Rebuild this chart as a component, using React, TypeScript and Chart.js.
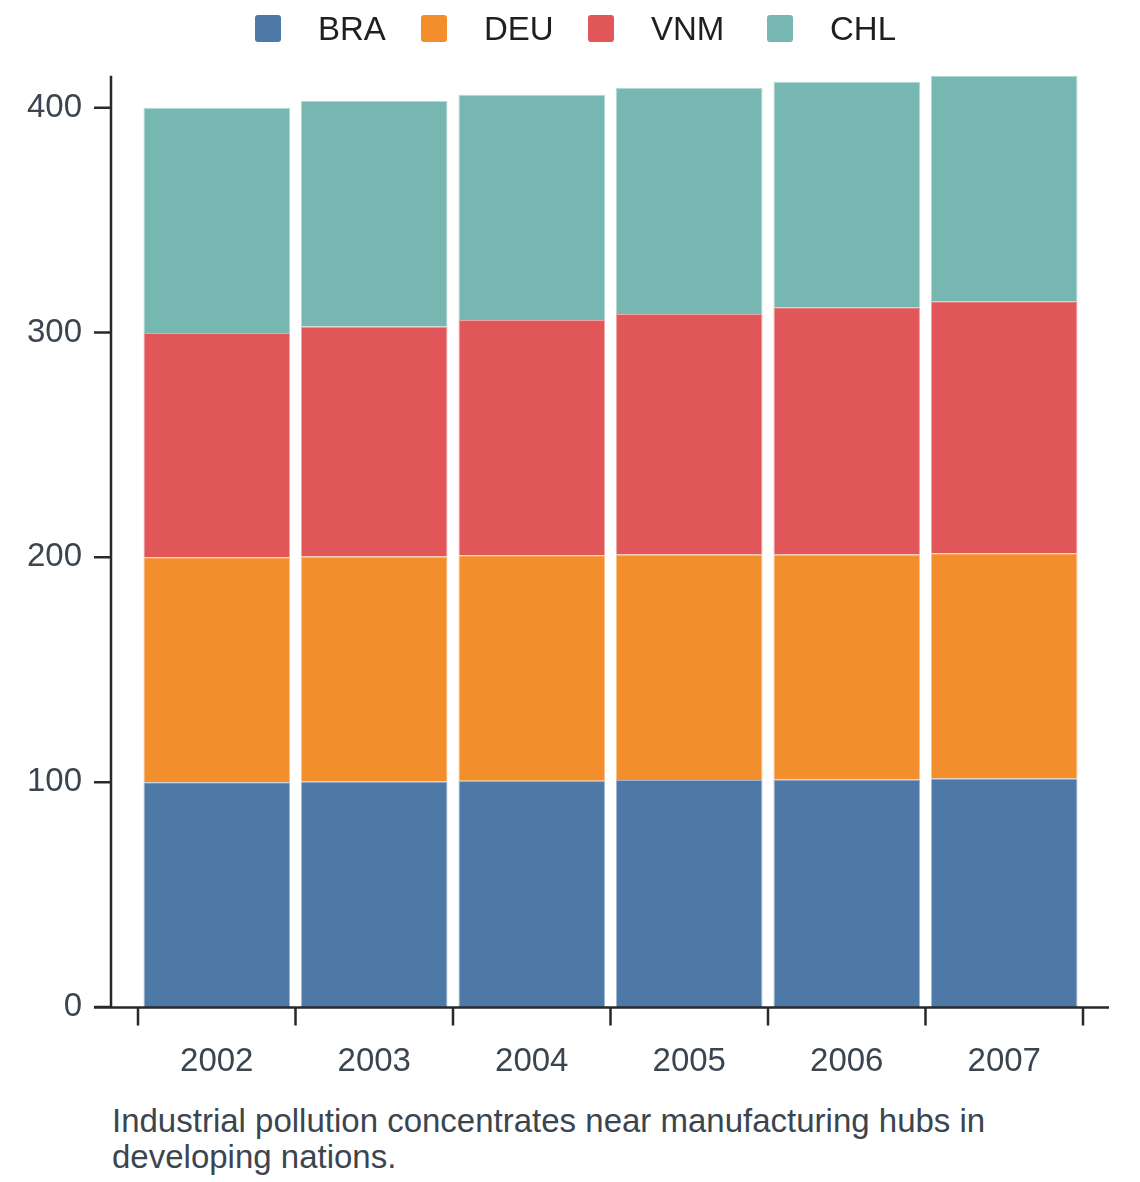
import { useEffect, useRef } from 'react'
import { Chart, registerables } from 'chart.js'

Chart.register(...registerables)

const YEARS = ['2002', '2003', '2004', '2005', '2006', '2007']
const BRA = [100, 100.3, 100.6, 101, 101.2, 101.6]
const DEU = [100, 100.1, 100.3, 100.3, 100.1, 100.2]
const VNM = [99.8, 102.3, 104.7, 107, 109.9, 112.1]
const CHL = [100.2, 100.3, 100.2, 100.6, 100.4, 100.3]
const Y_TICKS = [0, 100, 200, 300, 400]

const SERIES = [
  { label: 'BRA', data: BRA, color: '#4e79a7', rgb: '78,121,167' },
  { label: 'DEU', data: DEU, color: '#f28e2b', rgb: '242,142,43' },
  { label: 'VNM', data: VNM, color: '#e15759', rgb: '225,87,89' },
  { label: 'CHL', data: CHL, color: '#76b7b2', rgb: '118,183,178' },
]

const CAPTION = 'Industrial pollution concentrates near manufacturing hubs in developing nations.'

const FONT = '"Liberation Sans", Arial, Helvetica, sans-serif'
const TEXT = '#3b4550'
const AXIS = '#262a2e'
const SIZE = 33

// legend item x positions (box left)
const LEGEND_X = [255, 421, 588, 767]

const spines = {
  id: 'spines',
  afterDraw(chart: Chart) {
    const { ctx, chartArea: a } = chart
    const x = chart.scales.x
    const y = chart.scales.y
    const sx = a.left - 27
    const by = a.bottom + 0.5
    ctx.save()
    ctx.strokeStyle = AXIS
    ctx.lineWidth = 2.5
    ctx.beginPath()
    ctx.moveTo(sx, a.top)
    ctx.lineTo(sx, by)
    Y_TICKS.forEach((v) => {
      const py = y.getPixelForValue(v)
      ctx.moveTo(sx - 17, py)
      ctx.lineTo(sx, py)
    })
    ctx.moveTo(sx - 17, by)
    ctx.lineTo(a.right + 26, by)
    for (let i = 0; i <= YEARS.length; i++) {
      const px = x.getPixelForValue(i - 0.5)
      ctx.moveTo(px, by)
      ctx.lineTo(px, by + 18)
    }
    ctx.stroke()
    ctx.restore()
  },
}

function StackedBars() {
  const ref = useRef<HTMLCanvasElement>(null)
  const chartRef = useRef<Chart | null>(null)

  useEffect(() => {
    if (!ref.current) return
    if (chartRef.current) chartRef.current.destroy()

    const totals = YEARS.map((_, i) => SERIES.reduce((s, d) => s + d.data[i], 0))
    const yMax = Math.max(...totals)

    chartRef.current = new Chart(ref.current, {
      type: 'bar',
      data: {
        labels: YEARS,
        datasets: SERIES.map((s) => ({
          label: s.label,
          data: s.data,
          backgroundColor: s.color,
          borderColor: `rgba(${s.rgb},0.55)`,
          borderWidth: 1,
          barPercentage: 0.93,
          categoryPercentage: 1,
        })),
      },
      options: {
        animation: false,
        responsive: true,
        maintainAspectRatio: false,
        layout: { padding: { top: 75, left: 0, right: 57, bottom: 0 } },
        plugins: {
          legend: { display: false },
          tooltip: { enabled: false },
        },
        scales: {
          x: {
            stacked: true,
            grid: { display: false, drawTicks: false },
            border: { display: false },
            ticks: { color: TEXT, font: { family: FONT, size: SIZE }, padding: 35 },
            afterFit: (s: any) => { s.height = 88 },
          },
          y: {
            stacked: true,
            min: 0,
            max: yMax,
            grid: { display: false, drawTicks: false },
            border: { display: false },
            ticks: {
              stepSize: 100,
              includeBounds: false,
              color: TEXT,
              font: { family: FONT, size: SIZE },
              padding: 56,
            },
            afterFit: (s: any) => { s.width = 138 },
          },
        },
      },
      plugins: [spines],
    })

    return () => { chartRef.current?.destroy() }
  }, [])

  return (
    <div style={{ position: 'absolute', left: 0, top: 0, width: 1140, height: 1095 }}>
      <canvas ref={ref} />
    </div>
  )
}

export default function App() {
  return (
    <div style={{ position: 'absolute', left: 0, top: 0, width: 1140, height: 1182, background: '#fff', fontFamily: FONT }}>
      <StackedBars />
      {SERIES.map((s, i) => (
        <div key={s.label}>
          <div
            style={{
              position: 'absolute', left: LEGEND_X[i], top: 15, width: 26, height: 27,
              background: s.color, borderRadius: 3,
            }}
          />
          <div
            style={{
              position: 'absolute', left: LEGEND_X[i] + 63, top: 12, fontSize: SIZE,
              lineHeight: '33px', color: '#1f1f1f', whiteSpace: 'nowrap',
            }}
          >
            {s.label}
          </div>
        </div>
      ))}
      <div
        style={{
          position: 'absolute', left: 112, top: 1103, width: 940, fontSize: SIZE,
          lineHeight: '36px', color: TEXT,
        }}
      >
        {CAPTION}
      </div>
    </div>
  )
}
